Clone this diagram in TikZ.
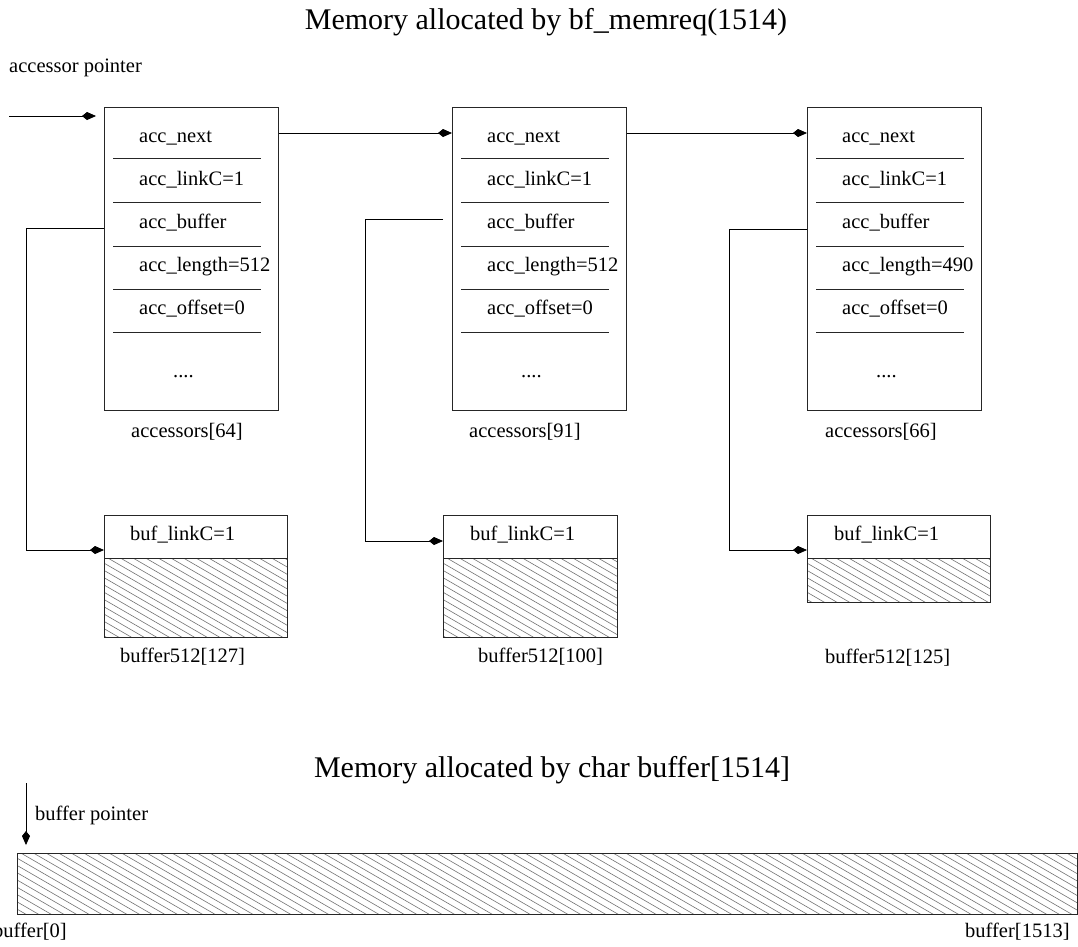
\documentclass[tikz,border=0pt]{standalone}
\usepackage{fontspec}
\setmainfont{Liberation Serif}
\usetikzlibrary{arrows.meta}
\newcommand\hatchfill[4]{%
  \begin{scope}
    \clip (#1,#2) rectangle (#3,#4);
    \foreach \k in {0,...,100}{\draw[hatchline] ({#1-160+\k*12.6},#2) -- ++(173,100);}
  \end{scope}}
\begin{document}
\begin{tikzpicture}[x=1pt,y=-1pt,
  box/.style={draw=black!85, line width=0.8pt, inner sep=0pt, anchor=north west},
  lbl/.style={inner sep=0pt, anchor=base west, font=\fontsize{20.5}{24}\selectfont},
  ttl/.style={inner sep=0pt, anchor=base, font=\fontsize{30}{36}\selectfont},
  sep/.style={line width=0.8pt, black!85},
  ptr/.style={-{Kite[length=14pt,width=8pt,inset=5pt]}, line width=0.8pt},
  hatchline/.style={line width=0.6pt, black!55}]
\fill[white] (0,0) rectangle (1078,946);
\useasboundingbox (0,0) rectangle (1078,946);

% titles
\node[ttl] (title1) at (546,29) {Memory allocated by bf\_memreq(1514)};
\node[lbl] (aptxt) at (9,72) {accessor pointer};

% accessor boxes
\foreach \n/\x/\len/\idx in {1/104/512/64, 2/452/512/91, 3/807/490/66}{
  \node[box, minimum width=174pt, minimum height=303pt] (acc\n) at (\x,107) {};
  \foreach \yy in {158,202,246,289,332}{\draw[sep] (\x+9,\yy) -- (\x+157,\yy);}
  \node[lbl] (fa\n) at (\x+35,142) {acc\_next};
  \node[lbl] (fb\n) at (\x+35,185) {acc\_linkC=1};
  \node[lbl] (fc\n) at (\x+35,228) {acc\_buffer};
  \node[lbl] (fd\n) at (\x+35,271) {acc\_length=\len};
  \node[lbl] (fe\n) at (\x+35,314) {acc\_offset=0};
  \node[lbl] (ff\n) at (\x+69,377) {....};
}
\node[lbl] (accl1) at (131,437) {accessors[64]};
\node[lbl] (accl2) at (469,437) {accessors[91]};
\node[lbl] (accl3) at (825,437) {accessors[66]};

% buffer boxes
\hatchfill{104}{558}{287}{637}
\hatchfill{443}{558}{617}{637}
\hatchfill{807}{558}{990}{602}
\node[box, minimum width=183pt, minimum height=122pt] (buf1) at (104,515) {};
\node[box, minimum width=174pt, minimum height=122pt] (buf2) at (443,515) {};
\node[box, minimum width=183pt, minimum height=87pt] (buf3) at (807,515) {};
\foreach \b in {1,2,3}{
  \draw[sep] ([yshift=-43pt]buf\b.north west) -- ([yshift=-43pt]buf\b.north east);
}
\node[lbl] (bl1) at (130,540) {buf\_linkC=1};
\node[lbl] (bl2) at (470,540) {buf\_linkC=1};
\node[lbl] (bl3) at (834,540) {buf\_linkC=1};
\node[lbl] (bn1) at (120,662) {buffer512[127]};
\node[lbl] (bn2) at (478,662) {buffer512[100]};
\node[lbl] (bn3) at (825,663) {buffer512[125]};

% connectors
\coordinate (ap) at (9,116);
\draw[ptr, shorten >=8pt] (ap) -- (acc1.west |- ap);
\draw[ptr] ([yshift=-26pt]acc1.north east) -- ([yshift=-26pt]acc2.north west);
\draw[ptr] ([yshift=-26pt]acc2.north east) -- ([yshift=-26pt]acc3.north west);
\draw[ptr] ([yshift=-121pt]acc1.north west) -- ++(-78,0) |- ([yshift=-35pt]buf1.north west);
\draw[ptr] ([xshift=-9pt,yshift=-112pt]acc2.north west) -- ++(-78,0) |- ([yshift=-26pt]buf2.north west);
\draw[ptr] ([yshift=-122pt]acc3.north west) -- ++(-78,0) |- ([yshift=-35pt]buf3.north west);

% bottom part
\node[ttl] (title2) at (552,777) {Memory allocated by char buffer[1514]};
\hatchfill{17}{853}{1077}{914}
\node[box, minimum width=1060pt, minimum height=61pt] (strip) at (17,853) {};
\coordinate (bp) at (26,783);
\draw[ptr, shorten >=8pt] (bp) -- (strip.north -| bp);
\node[lbl] (bptxt) at (35,820) {buffer pointer};
\node[lbl] (b0) at (-7,937) {buffer[0]};
\node[lbl] (b1513) at (965,937) {buffer[1513]};
\end{tikzpicture}
\end{document}
